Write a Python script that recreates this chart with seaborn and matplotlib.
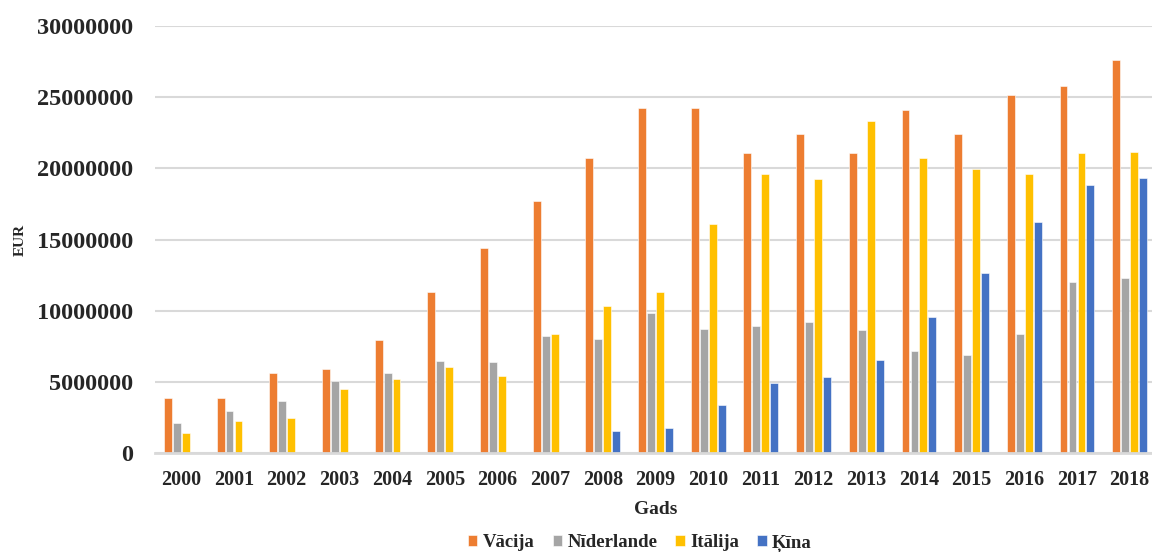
import matplotlib
matplotlib.use("Agg")
import matplotlib.pyplot as plt
from matplotlib.ticker import FuncFormatter
import pandas as pd
import seaborn as sns

years = [str(y) for y in range(2000, 2019)]
countries = ["Vācija", "Nīderlande", "Itālija", "Ķīna"]

vacija = [3830000, 3850000, 5590000, 5890000, 7940000, 11310000, 14370000,
          17720000, 20700000, 24240000, 24240000, 21080000, 22410000,
          21100000, 24100000, 22410000, 25150000, 25770000, 27600000]
niderlande = [2140000, 2920000, 3640000, 5070000, 5610000, 6440000, 6410000,
              8190000, 8000000, 9860000, 8730000, 8920000, 9210000,
              8630000, 7200000, 6890000, 8330000, 12000000, 12310000]
italija = [1440000, 2250000, 2440000, 4530000, 5190000, 6040000, 5420000,
           8330000, 10320000, 11340000, 16060000, 19580000, 19270000,
           23330000, 20700000, 19970000, 19580000, 21050000, 21170000]
kina = [0, 0, 0, 0, 0, 0, 0, 0, 1570000, 1760000, 3380000, 4930000,
        5340000, 6520000, 9560000, 12620000, 16220000, 18850000, 19320000]

colors = ["#ED7D31", "#A5A5A5", "#FFC000", "#4472C4"]

df = pd.DataFrame({
    "Gads": years * 4,
    "EUR": vacija + niderlande + italija + kina,
    "Valsts": [c for c in countries for _ in years],
})

sns.set_theme(style="white")
plt.rcParams["font.family"] = ["Liberation Serif", "DejaVu Serif"]
plt.rcParams["font.weight"] = "bold"

fig = plt.figure(figsize=(11.52, 5.52), dpi=100)
ax = fig.add_axes([155 / 1152, 99 / 552, 1001 / 1152, 427 / 552])

sns.barplot(data=df, x="Gads", y="EUR", hue="Valsts", hue_order=countries,
            palette=colors, width=0.68, gap=0.12, saturation=1,
            edgecolor="white", linewidth=0.4, ax=ax, legend=True)

ax.set_ylim(0, 30000000)
ax.set_yticks(range(0, 30000001, 5000000))
ax.yaxis.set_major_formatter(FuncFormatter(lambda v, p: f"{v:.0f}"))
ax.grid(axis="y", color="#D9D9D9", linewidth=1.5)
ax.set_axisbelow(True)
for side in ["left", "right", "top"]:
    ax.spines[side].set_visible(False)
ax.spines["bottom"].set_color("#D9D9D9")
ax.spines["bottom"].set_linewidth(2)

ax.tick_params(axis="y", length=0, pad=16, labelsize=17.5)
ax.tick_params(axis="x", length=0, pad=12.5, labelsize=14.5)
for lab in ax.get_xticklabels() + ax.get_yticklabels():
    lab.set_fontweight("bold")

ax.set_xlabel("Gads", fontsize=14, fontweight="bold", labelpad=8)
ax.set_ylabel("EUR", fontsize=11, fontweight="bold", labelpad=7)

handles, labels = ax.get_legend_handles_labels()
ax.get_legend().remove()
fig.legend(handles, labels, loc="center", bbox_to_anchor=(640 / 1152, 1 - 543 / 552),
           ncol=4, frameon=False, handlelength=0.5, handleheight=0.5,
           handletextpad=0.3, columnspacing=0.95, prop={"weight": "bold", "size": 13.5})

fig.savefig("out.png", dpi=100)
